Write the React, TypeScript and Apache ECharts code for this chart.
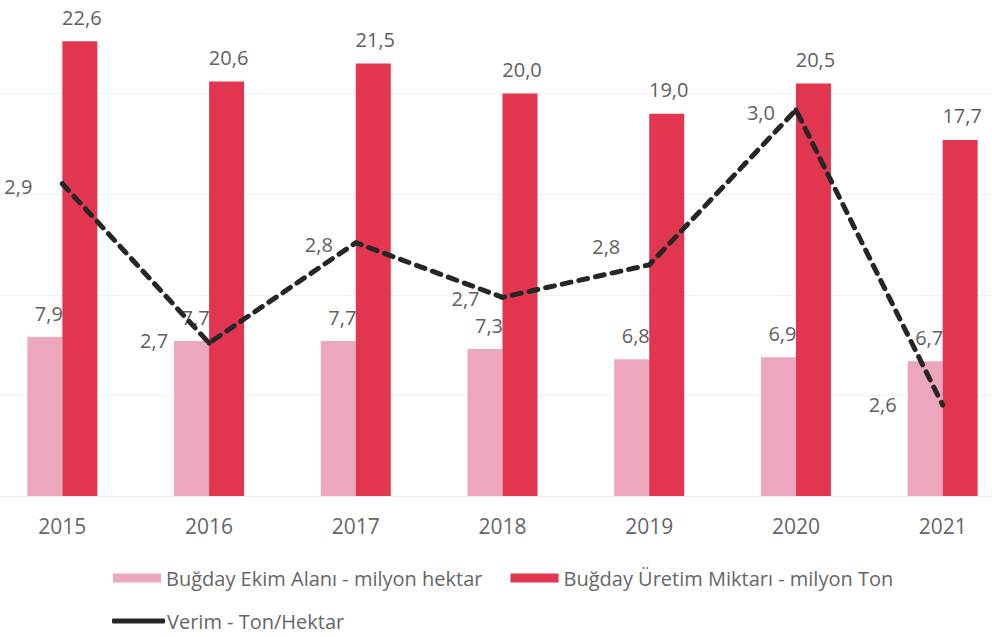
import React, { useEffect, useRef } from "react";
import * as echarts from "echarts";

const years = ["2015", "2016", "2017", "2018", "2019", "2020", "2021"];
const ekimAlani = [7.9, 7.7, 7.7, 7.3, 6.8, 6.9, 6.7];
const uretim = [22.6, 20.6, 21.5, 20.0, 19.0, 20.5, 17.7];
const verim = [2.9, 2.684, 2.82, 2.746, 2.79, 3.0, 2.6];

const seriesNames = [
  "Buğday Ekim Alanı - milyon hektar",
  "Buğday Üretim Miktarı - milyon Ton",
  "Verim - Ton/Hektar",
];

// label offsets for the yield line (layout only)
const verimLabelOffsets = [
  [-44, 3],
  [-55, -3],
  [-37, 2],
  [-37, 1],
  [-43, -18],
  [-35, 3],
  [-60, 0],
];

const fmt = (v: number) => v.toFixed(1).replace(".", ",");

export default function App() {
  const ref = useRef<HTMLDivElement>(null);
  useEffect(() => {
    if (!ref.current) return;
    const chart = echarts.init(ref.current, undefined, { renderer: "svg" });
    const font = "'Open Sans', Lato, sans-serif";
    const labelColor = "#5f5f5f";
    chart.setOption({
      animation: false,
      backgroundColor: "#ffffff",
      textStyle: { fontFamily: font },
      grid: { left: 0, right: 0, top: 0, bottom: 141, containLabel: false },
      legend: [
        {
          left: 124,
          top: 575,
          padding: 0,
          itemWidth: 48,
          itemHeight: 9,
          itemGap: 28,
          icon: "rect",
          textStyle: { fontFamily: font, fontSize: 20, color: "#666" },
          data: [seriesNames[0], seriesNames[1]],
        },
        {
          left: 123,
          top: 618,
          padding: 0,
          itemWidth: 53,
          itemHeight: 5,
          textStyle: { fontFamily: font, fontSize: 20, color: "#666", padding: [0, 0, 0, -3] },
          data: [{ name: seriesNames[2], icon: "roundRect" }],
        },
      ],
      xAxis: {
        type: "category",
        data: years,
        axisLine: { show: true, lineStyle: { color: "#ededed" } },
        axisTick: { show: false },
        axisLabel: { color: "#666", fontSize: 21, margin: 19, fontFamily: font },
      },
      yAxis: [
        {
          type: "value",
          min: 0,
          max: 25,
          interval: 5,
          axisLabel: { show: false },
          axisLine: { show: false },
          axisTick: { show: false },
          splitLine: { lineStyle: { color: "#f2f2f2" } },
        },
        {
          type: "value",
          min: 2.4766,
          max: 3.1586,
          axisLabel: { show: false },
          axisLine: { show: false },
          axisTick: { show: false },
          splitLine: { show: false },
        },
      ],
      series: [
        {
          name: seriesNames[0],
          type: "bar",
          data: ekimAlani,
          barWidth: 35,
          barGap: "0%",
          itemStyle: { color: "#eda7bc" },
          label: {
            show: true,
            position: "top",
            distance: 14,
            offset: [4, 0],
            color: labelColor,
            fontSize: 20,
            fontFamily: font,
            formatter: (p: any) => fmt(p.value),
          },
        },
        {
          name: seriesNames[1],
          type: "bar",
          data: uretim,
          barWidth: 35,
          barGap: "0%",
          itemStyle: { color: "#e2354f" },
          label: {
            show: true,
            position: "top",
            distance: 14,
            offset: [2, 0],
            color: labelColor,
            fontSize: 20,
            fontFamily: font,
            formatter: (p: any) => fmt(p.value),
          },
        },
        {
          name: seriesNames[2],
          type: "line",
          yAxisIndex: 1,
          z: 5,
          data: verim.map((v, i) => ({
            value: v,
            label: { offset: verimLabelOffsets[i] },
          })),
          symbol: "circle",
          symbolSize: 5,
          itemStyle: { color: "#262626" },
          lineStyle: { color: "#262626", width: 5, type: [9, 8], cap: "round" },
          label: {
            show: true,
            position: "inside",
            color: labelColor,
            fontSize: 20,
            fontFamily: font,
            formatter: (p: any) => fmt(p.value),
          },
        },
      ],
    });
    return () => chart.dispose();
  }, []);
  return (
    <div
      ref={ref}
      style={{ position: "fixed", left: -11, top: -7, width: 1027, height: 644 }}
    />
  );
}
